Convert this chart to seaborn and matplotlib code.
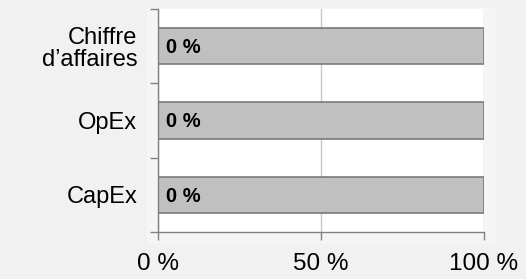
import matplotlib
matplotlib.use("Agg")
import matplotlib.pyplot as plt
import matplotlib.patches as mpatches
import seaborn as sns
import pandas as pd

# ── DATA ──────────────────────────────────────────────────────────────────────

categories  = ["Chiffre\nd\u2019affaires", "OpEx", "CapEx"]
aligned     = [0, 0, 0]          # share shown in the label
non_aligned = [100, 100, 100]    # grey bar length
x_ticks     = [0, 50, 100]
x_labels    = ["0 %", "50 %", "100 %"]

df = pd.DataFrame({"cat": categories, "value": non_aligned})

# ── STYLE ─────────────────────────────────────────────────────────────────────

sns.set_theme(style="white")
plt.rcParams["font.family"] = ["Liberation Sans", "DejaVu Sans"]
plt.rcParams["text.color"] = "black"
plt.rcParams["xtick.color"] = "black"
plt.rcParams["ytick.color"] = "black"

fig = plt.figure(figsize=(5.26, 2.79), dpi=100, facecolor="#f1f1f1")
# lighter plot-area panel behind the axes
fig.patches.append(mpatches.Rectangle((147 / 526, 1 - 243 / 279), 349 / 526, 235 / 279,
                                      transform=fig.transFigure, facecolor="#f5f5f5",
                                      edgecolor="none", zorder=-5))
ax = fig.add_axes([158 / 526, 1 - 232 / 279, 326 / 526, 223 / 279])
ax.set_facecolor("white")

sns.barplot(data=df, x="value", y="cat", orient="h", ax=ax, width=0.49,
            color="#c0c0c0", edgecolor="#7a7a7a", linewidth=1.2, saturation=1)

for i, v in enumerate(aligned):
    ax.annotate(f"{v} %", xy=(v, i), xytext=(6, -1), textcoords="offset points",
                ha="left", va="center", fontsize=14.5, fontweight="bold", color="black")

ax.set_xlim(0, 100)
ax.set_ylim(2.5, -0.5)
ax.set_xlabel("")
ax.set_ylabel("")

ax.set_xticks(x_ticks)
ax.set_xticklabels(x_labels, fontsize=17.5)
ax.tick_params(axis="x", bottom=True, length=6, width=1, color="#808080", pad=9)

ax.set_yticks(range(len(categories)))
ax.set_yticklabels(categories, fontsize=17, linespacing=1.0)
ax.set_yticks([-0.5, 0.5, 1.5, 2.5], minor=True)
ax.tick_params(axis="y", which="major", left=False, length=0, pad=15)
ax.tick_params(axis="y", which="minor", left=True, length=6, width=1, color="#808080")

ax.xaxis.grid(True, color="#c8c8c8", linewidth=1)
ax.set_axisbelow(True)

for side in ["top", "right"]:
    ax.spines[side].set_visible(False)
for side in ["left", "bottom"]:
    ax.spines[side].set_color("#808080")
    ax.spines[side].set_linewidth(1)

fig.savefig("out.png", dpi=100, facecolor=fig.get_facecolor())
